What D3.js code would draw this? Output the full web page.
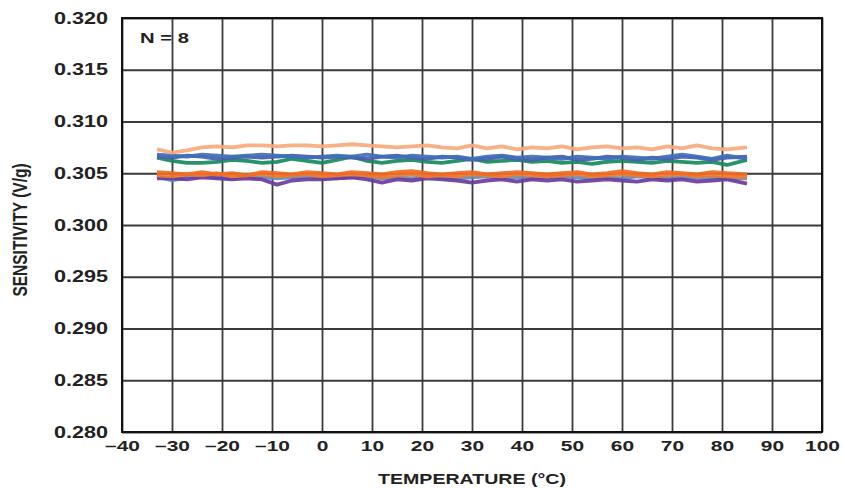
<!DOCTYPE html>
<html>
<head>
<meta charset="utf-8">
<script src="https://cdn.jsdelivr.net/npm/d3@7"></script>
<style>
  html, body { margin: 0; padding: 0; background: #fff; }
  svg text { font-family: "Liberation Sans", Arial, sans-serif; font-weight: bold; fill: #222; }
</style>
</head>
<body>
<script>
// temperature samples (degC)
var temps = [-33,-30,-27,-24,-21,-18,-15,-12,-9,-6,-3,0,3,6,9,12,15,18,21,24,27,30,33,36,39,42,45,48,51,54,57,60,63,66,69,72,75,78,81,85];

// sensitivity of each part (V/g)
var part1 = [0.3045,0.3045,0.3044,0.3046,0.3045,0.3044,0.3045,0.3044,0.3039,0.3043,0.3044,0.3044,0.3045,0.3046,0.3044,0.3041,0.3044,0.3043,0.3045,0.3044,0.3043,0.3041,0.3043,0.3044,0.3042,0.3044,0.3043,0.3044,0.3042,0.3043,0.3044,0.3043,0.3042,0.3044,0.3043,0.3044,0.3042,0.3043,0.3044,0.3040];
var part2 = [0.3047,0.3043,0.3046,0.3047,0.3046,0.3045,0.3047,0.3046,0.3045,0.3046,0.3047,0.3046,0.3045,0.3046,0.3047,0.3045,0.3046,0.3045,0.3047,0.3046,0.3045,0.3046,0.3047,0.3045,0.3046,0.3045,0.3046,0.3047,0.3046,0.3045,0.3046,0.3045,0.3047,0.3046,0.3045,0.3046,0.3045,0.3046,0.3045,0.3045];
var part3 = [0.3048,0.3047,0.3049,0.3048,0.3050,0.3047,0.3048,0.3049,0.3047,0.3048,0.3049,0.3047,0.3048,0.3049,0.3048,0.3046,0.3048,0.3049,0.3047,0.3048,0.3047,0.3049,0.3048,0.3047,0.3049,0.3048,0.3047,0.3048,0.3049,0.3047,0.3048,0.3049,0.3048,0.3047,0.3048,0.3049,0.3047,0.3048,0.3047,0.3046];
var part4 = [0.3051,0.3050,0.3049,0.3051,0.3049,0.3050,0.3048,0.3051,0.3050,0.3049,0.3051,0.3050,0.3049,0.3051,0.3050,0.3049,0.3051,0.3052,0.3050,0.3049,0.3050,0.3051,0.3049,0.3050,0.3051,0.3050,0.3049,0.3050,0.3051,0.3049,0.3050,0.3052,0.3050,0.3049,0.3051,0.3050,0.3049,0.3051,0.3050,0.3049];
var part5 = [0.3065,0.3062,0.3060,0.3060,0.3061,0.3063,0.3062,0.3060,0.3061,0.3064,0.3062,0.3060,0.3063,0.3066,0.3062,0.3060,0.3062,0.3063,0.3061,0.3060,0.3062,0.3064,0.3061,0.3062,0.3063,0.3061,0.3062,0.3060,0.3061,0.3059,0.3061,0.3062,0.3061,0.3060,0.3062,0.3061,0.3060,0.3061,0.3058,0.3063];
var part6 = [0.3066,0.3065,0.3067,0.3066,0.3064,0.3065,0.3066,0.3065,0.3066,0.3067,0.3066,0.3065,0.3066,0.3065,0.3064,0.3066,0.3067,0.3065,0.3064,0.3066,0.3065,0.3063,0.3064,0.3066,0.3064,0.3063,0.3065,0.3066,0.3063,0.3064,0.3066,0.3065,0.3063,0.3065,0.3064,0.3066,0.3065,0.3063,0.3065,0.3066];
var part7 = [0.3068,0.3067,0.3066,0.3068,0.3067,0.3066,0.3067,0.3068,0.3067,0.3066,0.3065,0.3066,0.3067,0.3066,0.3068,0.3066,0.3065,0.3067,0.3066,0.3065,0.3066,0.3064,0.3066,0.3067,0.3065,0.3066,0.3065,0.3064,0.3066,0.3065,0.3064,0.3066,0.3065,0.3064,0.3066,0.3068,0.3066,0.3064,0.3067,0.3064];
var part8 = [0.3073,0.3070,0.3072,0.3075,0.3076,0.3075,0.3077,0.3077,0.3076,0.3077,0.3077,0.3076,0.3077,0.3078,0.3077,0.3076,0.3075,0.3076,0.3077,0.3075,0.3074,0.3077,0.3074,0.3076,0.3073,0.3075,0.3074,0.3076,0.3073,0.3075,0.3076,0.3074,0.3075,0.3073,0.3076,0.3074,0.3077,0.3074,0.3073,0.3075];

var parts = [part2, part1, part3, part4, part5, part6, part7, part8];
var colors = ["#5b8ec2", "#6a3c9e", "#ee7a30", "#f26a22", "#168a5d", "#4b5cae", "#3f6fb8", "#f7a97c"];

var xTicks = [-40,-30,-20,-10,0,10,20,30,40,50,60,70,80,90,100];
var yTicks = [0.280,0.285,0.290,0.295,0.300,0.305,0.310,0.315,0.320];

var w = 843, h = 488;
var pLeft = 122, pRight = 822, pTop = 18, pBottom = 432;
var stretch = 1.35; // glyphs in the reference are wide

var svg = d3.select("body").append("svg").attr("width", w).attr("height", h);

var x = d3.scaleLinear().domain([-40, 100]).range([pLeft, pRight]);
var y = d3.scaleLinear().domain([0.280, 0.320]).range([pBottom, pTop]);

// grid
svg.append("g")
    .attr("transform", "translate(0," + pBottom + ")")
    .call(d3.axisBottom(x).tickValues(xTicks).tickSize(-(pBottom - pTop)).tickFormat(""))
    .call(function(g) { g.select(".domain").remove(); })
    .selectAll("line").attr("stroke", "#3a3a3a").attr("stroke-width", 1.8);

svg.append("g")
    .attr("transform", "translate(" + pLeft + ",0)")
    .call(d3.axisLeft(y).tickValues(yTicks).tickSize(-(pRight - pLeft)).tickFormat(""))
    .call(function(g) { g.select(".domain").remove(); })
    .selectAll("line").attr("stroke", "#3a3a3a").attr("stroke-width", 1.8);

// data lines
var line = d3.line()
    .x(function(d, i) { return x(temps[i]); })
    .y(function(d) { return y(d); });

svg.selectAll("path.part")
    .data(parts)
    .enter()
    .append("path")
    .attr("class", "part")
    .attr("d", line)
    .attr("fill", "none")
    .attr("stroke", function(d, i) { return colors[i]; })
    .attr("stroke-width", 3.8)
    .attr("stroke-linejoin", "round")
    .attr("stroke-opacity", 0.92);

// frame
svg.append("rect")
    .attr("x", pLeft).attr("y", pTop)
    .attr("width", pRight - pLeft).attr("height", pBottom - pTop)
    .attr("fill", "none").attr("stroke", "#111").attr("stroke-width", 2);

// tick labels
var xAxis = svg.append("g")
    .attr("transform", "translate(0," + pBottom + ")")
    .call(d3.axisBottom(x).tickValues(xTicks).tickSize(0).tickPadding(8)
        .tickFormat(function(d) { return d < 0 ? "\u2013" + (-d) : "" + d; }));
xAxis.select(".domain").remove();
xAxis.selectAll("text")
    .style("font-size", "15.5px")
    .attr("transform", "scale(" + stretch + ",1)");

var yAxis = svg.append("g")
    .attr("transform", "translate(" + pLeft + ",0)")
    .call(d3.axisLeft(y).tickValues(yTicks).tickSize(0).tickPadding(10).tickFormat(d3.format(".3f")));
yAxis.select(".domain").remove();
yAxis.selectAll("text")
    .style("font-size", "16px")
    .attr("x", -14 / stretch)
    .attr("transform", "scale(" + stretch + ",1)");

// titles
svg.append("text")
    .attr("transform", "translate(" + ((pLeft + pRight) / 2) + ",484) scale(" + stretch + ",1)")
    .attr("text-anchor", "middle")
    .style("font-size", "14.5px")
    .text("TEMPERATURE (\u00b0C)");

svg.append("text")
    .attr("transform", "translate(27," + ((pTop + pBottom) / 2 + 5) + ") scale(" + stretch + ",1) rotate(-90)")
    .attr("text-anchor", "middle")
    .style("font-size", "15.5px")
    .text("SENSITIVITY (V/g)");

svg.append("text")
    .attr("transform", "translate(140,43) scale(" + stretch + ",1)")
    .style("font-size", "15px")
    .text("N = 8");
</script>
</body>
</html>
